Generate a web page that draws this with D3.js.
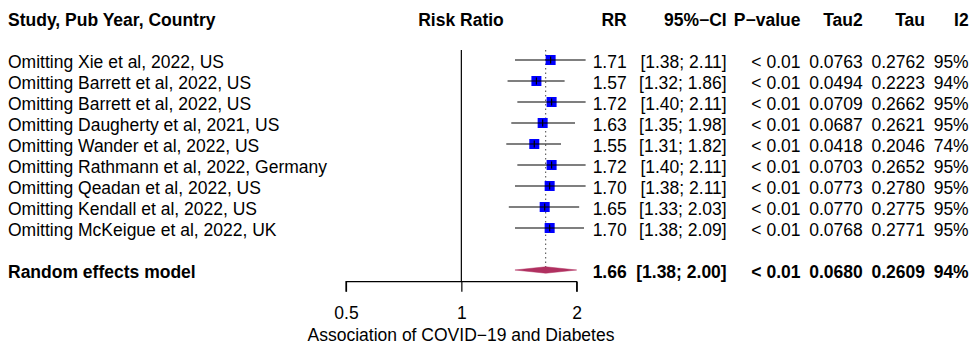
<!DOCTYPE html>
<html>
<head>
<meta charset="utf-8">
<script src="https://cdn.jsdelivr.net/npm/d3@7"></script>
<style>
  html, body { margin: 0; padding: 0; background: #fff; }
  svg text { font-family: "Liberation Sans", Arial, Helvetica, sans-serif; fill: #000; }
</style>
</head>
<body>
<svg id="chart" width="977" height="345"></svg>
<script>
const studies = [
  "Omitting Xie et al, 2022, US",
  "Omitting Barrett et al, 2022, US",
  "Omitting Barrett et al, 2022, US",
  "Omitting Daugherty et al, 2021, US",
  "Omitting Wander et al, 2022, US",
  "Omitting Rathmann et al, 2022, Germany",
  "Omitting Qeadan et al, 2022, US",
  "Omitting Kendall et al, 2022, US",
  "Omitting McKeigue et al, 2022, UK"
];
const rr    = [1.71, 1.57, 1.72, 1.63, 1.55, 1.72, 1.70, 1.65, 1.70];
const lower = [1.38, 1.32, 1.40, 1.35, 1.31, 1.40, 1.38, 1.33, 1.38];
const upper = [2.11, 1.86, 2.11, 1.98, 1.82, 2.11, 2.11, 2.03, 2.09];
const pvals = ["< 0.01", "< 0.01", "< 0.01", "< 0.01", "< 0.01", "< 0.01", "< 0.01", "< 0.01", "< 0.01"];
const tau2  = [0.0763, 0.0494, 0.0709, 0.0687, 0.0418, 0.0703, 0.0773, 0.0770, 0.0768];
const tau   = [0.2762, 0.2223, 0.2662, 0.2621, 0.2046, 0.2652, 0.2780, 0.2775, 0.2771];
const i2    = [95, 94, 95, 95, 74, 95, 95, 95, 95];

const pooledLabel = "Random effects model";
const pooled = { rr: 1.66, lower: 1.38, upper: 2.00, p: "< 0.01", tau2: 0.0680, tau: 0.2609, i2: 94 };

const axisTicks = [0.5, 1, 2];
const axisTitle = "Association of COVID\u221219 and Diabetes";
const headers = ["Study, Pub Year, Country", "Risk Ratio", "RR", "95%\u2212CI", "P\u2212value", "Tau2", "Tau", "I2"];

const svg = d3.select("#chart");
const FS = 17.5;
const TDY = 1.5; // text vertical nudge

const x = d3.scaleLog().domain([0.5, 2]).range([346, 576.7]);
const y = d3.scaleLinear().domain([0, 10]).range([60, 270]);
const yPooled = y(10);
const axisY = 281.7;

const fmt2 = d3.format(".2f");
const fmt4 = d3.format(".4f");

// column right edges
const colRR = 626.7, colCI = 726.7, colP = 800.5, colT2 = 862.7, colT = 925, colI2 = 968.7;

// headers
const hy = 20;
const hdr = svg.append("g").attr("font-weight", "bold").attr("font-size", FS);
hdr.append("text").attr("x", 8).attr("y", hy).attr("dominant-baseline", "central").text(headers[0]);
hdr.append("text").attr("x", 461).attr("y", hy).attr("text-anchor", "middle").attr("dominant-baseline", "central").text(headers[1]);
[[colRR, 2], [colCI, 3], [colP, 4], [colT2, 5], [colT, 6], [colI2, 7]].forEach(([cx, k]) => {
  hdr.append("text").attr("x", cx).attr("y", hy).attr("text-anchor", "end").attr("dominant-baseline", "central").text(headers[k]);
});

// reference line at 1
svg.append("line").attr("x1", x(1)).attr("x2", x(1)).attr("y1", 50).attr("y2", axisY)
  .attr("stroke", "#000").attr("stroke-width", 1.2);

// dotted pooled line
svg.append("line").attr("x1", x(pooled.rr)).attr("x2", x(pooled.rr)).attr("y1", 50).attr("y2", yPooled)
  .attr("stroke", "#444").attr("stroke-width", 1).attr("stroke-dasharray", "1.5,3");

// study rows
const rows = svg.append("g");
studies.forEach((s, i) => {
  const yy = y(i);
  rows.append("text").attr("x", 8).attr("y", yy + TDY).attr("dominant-baseline", "central").attr("font-size", FS).text(s);
  rows.append("rect").attr("x", x(rr[i]) - 5).attr("y", yy - 5).attr("width", 10).attr("height", 10).attr("fill", "#0000ff");
  rows.append("line").attr("x1", x(lower[i])).attr("x2", x(upper[i])).attr("y1", yy).attr("y2", yy)
    .attr("stroke", "#000").attr("stroke-width", 1.2);
  rows.append("line").attr("x1", x(rr[i])).attr("x2", x(rr[i])).attr("y1", yy - 3.5).attr("y2", yy + 3.5)
    .attr("stroke", "#000").attr("stroke-width", 1.2);
  const vals = [
    [colRR, fmt2(rr[i])],
    [colCI, "[" + fmt2(lower[i]) + "; " + fmt2(upper[i]) + "]"],
    [colP, pvals[i]],
    [colT2, fmt4(tau2[i])],
    [colT, fmt4(tau[i])],
    [colI2, i2[i] + "%"]
  ];
  vals.forEach(([cx, t]) => {
    rows.append("text").attr("x", cx).attr("y", yy + TDY).attr("text-anchor", "end").attr("dominant-baseline", "central")
      .attr("font-size", FS).text(t);
  });
});

// pooled row
const pg = svg.append("g").attr("font-weight", "bold").attr("font-size", FS);
pg.append("text").attr("x", 8).attr("y", yPooled + TDY).attr("dominant-baseline", "central").text(pooledLabel);
const dh = 3.2;
pg.append("path")
  .attr("d", `M${x(pooled.lower)},${yPooled} L${x(pooled.rr)},${yPooled - dh} L${x(pooled.upper)},${yPooled} L${x(pooled.rr)},${yPooled + dh} Z`)
  .attr("fill", "#b03060").attr("stroke", "#b03060").attr("stroke-width", 0.5);
[
  [colRR, fmt2(pooled.rr)],
  [colCI, "[" + fmt2(pooled.lower) + "; " + fmt2(pooled.upper) + "]"],
  [colP, pooled.p],
  [colT2, fmt4(pooled.tau2)],
  [colT, fmt4(pooled.tau)],
  [colI2, pooled.i2 + "%"]
].forEach(([cx, t]) => {
  pg.append("text").attr("x", cx).attr("y", yPooled + TDY).attr("text-anchor", "end").attr("dominant-baseline", "central").text(t);
});

// axis
const axis = d3.axisBottom(x).tickValues(axisTicks).tickFormat(d => String(d)).tickSize(10).tickPadding(14.5);
const ag = svg.append("g").attr("transform", `translate(0,${axisY})`).call(axis);
ag.select(".domain").attr("d", `M${x(0.5)},10V0H${x(2)}V10`).attr("stroke", "#000").attr("stroke-width", 1.2);
ag.selectAll(".tick line").attr("stroke", "#000").attr("stroke-width", 1.2);
ag.selectAll(".tick text").attr("font-size", FS).attr("font-family", "'Liberation Sans', Arial, sans-serif").attr("fill", "#000");

svg.append("text").attr("x", 461).attr("y", 335).attr("text-anchor", "middle").attr("dominant-baseline", "central")
  .attr("font-size", FS).text(axisTitle);
</script>
</body>
</html>
